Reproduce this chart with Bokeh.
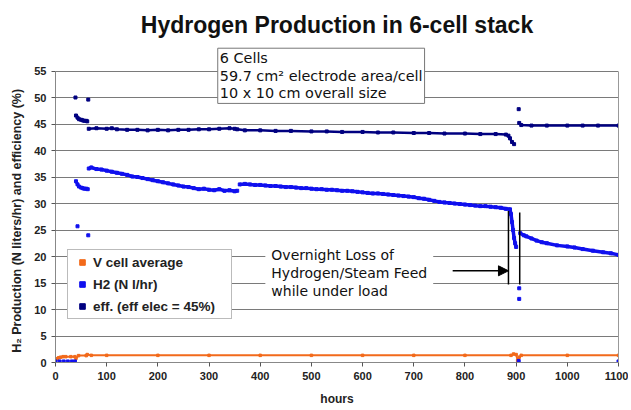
import math
from bokeh.plotting import figure
from bokeh.models import (Label, Legend, LegendItem, Arrow, NormalHead,
                          FixedTicker, Range1d, LinearAxis)
from bokeh.embed import file_html
from bokeh.resources import INLINE

nan = float("nan")

# ---------------- data ----------------
# efficiency (%)
eff_early_hours = [40, 43, 46, 50, 53, 56, 60, 62]
eff_early = [46.6, 46.2, 45.9, 45.8, 45.7, 45.6, 45.6, 45.5]
eff_hours = [65, 80, 100, 110, 120, 140, 160, 180, 200, 220, 240, 260, 280,
             300, 320, 340, 350, 355, 370, 400, 430, 460, 500, 530, 560, 600,
             630, 660, 700, 730, 760, 800, 830, 860, 880, 885, 888, 892, 896,
             nan, 906, 910, 930, 960, 1000, 1030, 1060, 1100]
eff_values = [44.1, 44.2, 44.1, 44.2, 44.0, 43.9, 43.9, 43.8, 43.9, 43.8,
              43.9, 43.9, 44.0, 44.0, 44.1, 44.2, 44.1, 44.0, 43.8, 43.8,
              43.7, 43.7, 43.6, 43.6, 43.5, 43.5, 43.4, 43.4, 43.3, 43.3,
              43.2, 43.2, 43.1, 43.1, 43.0, 42.8, 42.3, 41.6, 41.2,
              nan, 45.2, 44.8, 44.7, 44.7, 44.7, 44.7, 44.7, 44.7]
eff_outlier_hours = [39, 64, 905]
eff_outliers = [50.0, 49.6, 47.8]

# H2 production (N l/hr)
h2_early_hours = [40, 43, 46, 50, 53, 56, 60, 63]
h2_early = [34.2, 33.6, 33.2, 33.0, 32.9, 32.8, 32.8, 32.7]
h2_hours = [65, 70, 80, 90, 100, 110, 120, 130, 140, 150, 160, 170, 180, 190,
            200, 210, 220, 230, 240, 250, 260, 270, 280, 290, 300, 310, 320,
            330, 340, 350, 355, nan,
            360, 370, 380, 390, 400, 410, 420, 430, 440, 450, 460, 470, 480,
            490, 500, 510, 520, 530, 540, 550, 560, 570, 580, 590, 600, 610,
            620, 630, 640, 650, 660, 670, 680, 690, 700, 710, 720, 730, 740,
            750, 760, 770, 780, 790, 800, 810, 820, 830, 840, 850, 860, 870,
            880, 888, 890, 892, 894, 896, 898, 900, nan,
            908, 915, 920, 930, 940, 950, 960, 980, 1000, 1014, 1030, 1050,
            1070, 1085, 1100]
h2_values = [36.6, 36.8, 36.5, 36.4, 36.2, 36.0, 35.8, 35.6, 35.4, 35.1, 35.0,
             34.8, 34.6, 34.4, 34.2, 34.0, 33.8, 33.6, 33.4, 33.2, 33.1, 32.9,
             32.7, 32.8, 32.6, 32.5, 32.7, 32.4, 32.5, 32.3, 32.4, nan,
             33.6, 33.7, 33.6, 33.5, 33.5, 33.4, 33.3, 33.3, 33.2, 33.1, 33.1,
             33.0, 32.9, 32.9, 32.8, 32.7, 32.7, 32.6, 32.6, 32.5, 32.4, 32.4,
             32.3, 32.2, 32.1, 32.0, 31.9, 31.9, 31.8, 31.7, 31.6, 31.5, 31.4,
             31.3, 31.2, 31.0, 30.9, 30.7, 30.5, 30.3, 30.2, 30.1, 30.0, 29.9,
             29.8, 29.7, 29.6, 29.5, 29.5, 29.4, 29.3, 29.2, 29.0, 28.9, 28.0,
             26.5, 25.0, 23.5, 22.5, 21.8, nan,
             24.4, 24.0, 23.8, 23.4, 23.0, 22.7, 22.5, 22.1, 21.9, 21.7, 21.4,
             21.1, 20.8, 20.6, 20.3]
h2_outlier_hours = [43, 64, 906, 906, 0, 8, 16, 24, 32, 38, 905, 1100]
h2_outliers = [25.7, 24.0, 14.0, 12.0, 0.2, 0.2, 0.2, 0.2, 0.2, 0.2, 0.3, 0.2]

# V cell average
v_hours = [0, 3, 6, 10, 15, 20, 30, 38, 40, 45, 60, 62, 70, 100, 200, 300,
           400, 500, 600, 700, 800, 890, 895, 900, 903, 906, 910, 1000, 1100]
v_values = [0.4, 0.7, 0.9, 1.0, 1.1, 1.1, 1.1, 1.1, 0.8, 1.3, 1.3, 1.5, 1.35,
            1.35, 1.35, 1.35, 1.35, 1.35, 1.35, 1.35, 1.35, 1.35, 1.6, 1.5,
            0.4, 1.0, 1.35, 1.35, 1.35]

x_ticks = list(range(0, 1101, 100))
y_ticks = list(range(0, 56, 5))

info_text = "6 Cells\n59.7 cm\u00b2 electrode area/cell\n10 x 10 cm overall size"
note_text = "Overnight Loss of\nHydrogen/Steam Feed\nwhile under load"
event_hours = [885, 907]
event_top = [28.6, 28.3]
event_bottom = [14.7, 14.7]
arrow_start = (776, 17.3)
arrow_end = (885, 17.3)

EFF_C = "#000080"
H2_C = "#1010ee"
V_C = "#f26a1b"
FONT = "Liberation Sans"

p = figure(width=628, height=408, output_backend="svg", toolbar_location=None,
           x_range=Range1d(0, 1100), y_range=Range1d(0, 60),
           min_border_left=55, min_border_right=10, min_border_top=44,
           min_border_bottom=46, background_fill_color="white",
           border_fill_color="white")

p.title.text = "Hydrogen Production in 6-cell stack"
p.title.align = "center"
p.title.text_font = FONT
p.title.text_font_size = "23px"
p.title.text_font_style = "bold"
p.title.text_color = "#111111"
p.title.standoff = 13

p.outline_line_color = None
p.xgrid.grid_line_color = None
p.ygrid.grid_line_color = "#7a7a7a"
p.ygrid.grid_line_width = 1

p.xaxis.ticker = FixedTicker(ticks=x_ticks)
p.yaxis.ticker = FixedTicker(ticks=y_ticks)
p.yaxis.bounds = (0, 55)
for ax in (p.xaxis[0], p.yaxis[0]):
    ax.axis_line_color = "#888888"
    ax.major_tick_line_color = "#555555"
    ax.major_tick_out = 4
    ax.major_tick_in = 0
    ax.minor_tick_line_color = None
    ax.major_label_text_font = FONT
    ax.major_label_text_font_style = "bold"
    ax.major_label_text_font_size = "11px"
    ax.major_label_text_color = "#222222"
    ax.axis_label_text_font = FONT
    ax.axis_label_text_font_style = "bold"
    ax.axis_label_text_color = "#222222"
    ax.major_label_standoff = 5
p.xaxis.axis_label = "hours"
p.xaxis.axis_label_text_font_size = "12px"
p.xaxis.axis_label_standoff = 9
# trailing no-break spaces keep the visible label centred on the 0-55 span
p.yaxis.axis_label = ("H\u2082 Production (N liters/hr) and efficiency (%)"
                      + "\u00a0" * 10)
p.yaxis.axis_label_text_font_size = "12.5px"
p.yaxis.axis_label_standoff = 7

# right frame edge (0..55 only)
right = LinearAxis(bounds=(0, 55), ticker=FixedTicker(ticks=[]),
                   axis_line_color="#999999", major_tick_line_color=None,
                   minor_tick_line_color=None, major_label_text_font_size="0px",
                   major_label_standoff=0)
p.add_layout(right, "right")

# lines (dense bands)
p.line(eff_hours, eff_values, line_color=EFF_C, line_width=2.5)
p.line(eff_early_hours, eff_early, line_color=EFF_C, line_width=2.5)
p.line(h2_hours, h2_values, line_color=H2_C, line_width=3.5)
p.line(h2_early_hours, h2_early, line_color=H2_C, line_width=3)
p.line(v_hours, v_values, line_color=V_C, line_width=2)

r_v = p.scatter(v_hours, v_values, marker="square", size=2.5,
                color=V_C)
r_h2 = p.scatter(h2_hours + h2_early_hours + h2_outlier_hours,
                 h2_values + h2_early + h2_outliers, marker="square", size=3,
                 color=H2_C)
r_eff = p.scatter(eff_hours + eff_early_hours + eff_outlier_hours,
                  eff_values + eff_early + eff_outliers, marker="square",
                  size=3, color=EFF_C)

legend = Legend(items=[LegendItem(label="V cell average", renderers=[r_v]),
                       LegendItem(label="H2 (N l/hr)", renderers=[r_h2]),
                       LegendItem(label="eff. (eff elec = 45%)", renderers=[r_eff])],
                location=(12, 43), orientation="vertical",
                label_text_font=FONT, label_text_font_style="bold",
                label_text_font_size="13.5px", label_text_color="#222222",
                glyph_width=20, glyph_height=14, label_standoff=1,
                label_width=134, label_height=16,
                spacing=6, padding=4, margin=0,
                border_line_color="#777777", border_line_width=1,
                background_fill_color="white", background_fill_alpha=1.0)
p.add_layout(legend)

# info box
p.add_layout(Label(x=317, y=59.3, text=info_text, text_font="DejaVu Sans",
                   text_font_size="14.4px", text_color="#111111",
                   text_baseline="top", text_align="left",
                   border_line_color="#777777", background_fill_color="white",
                   background_fill_alpha=1.0, padding=2, text_line_height=1.1))

# note
p.add_layout(Label(x=410, y=23.0, text=note_text, text_font="DejaVu Sans",
                   text_font_size="14px", text_color="#111111",
                   text_baseline="top", text_align="left",
                   background_fill_color="white", background_fill_alpha=1.0,
                   padding=6, text_line_height=1.15))

p.segment(x0=event_hours, y0=event_bottom, x1=event_hours, y1=event_top,
          line_color="black", line_width=1.5)
p.add_layout(Arrow(x_start=arrow_start[0], y_start=arrow_start[1],
                   x_end=arrow_end[0], y_end=arrow_end[1],
                   line_color="black", line_width=1.5,
                   end=NormalHead(size=10, fill_color="black",
                                  line_color="black")))

open("out.html", "w").write(file_html(p, INLINE))
